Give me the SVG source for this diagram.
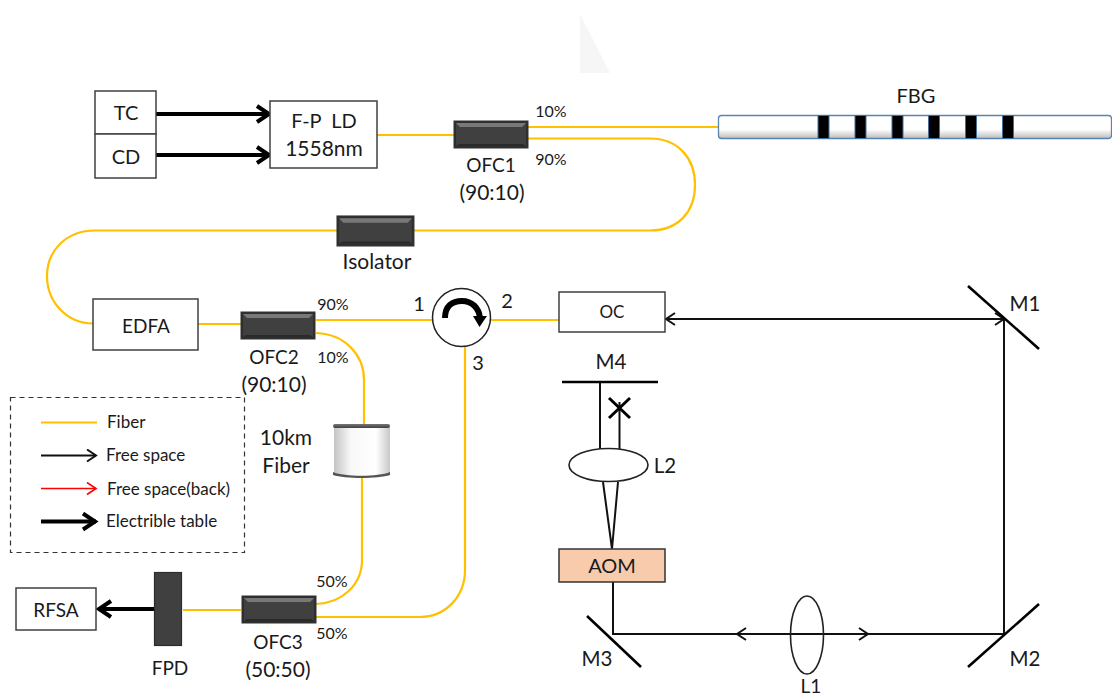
<svg xmlns="http://www.w3.org/2000/svg" width="1112" height="697" viewBox="0 0 1112 697">
<style>
text{font-family:"Lato","Liberation Sans",sans-serif;fill:#1a1a1a;text-anchor:middle}
.t20{font-size:20px}.t21{font-size:21px}.t19{font-size:19px}.t16{font-size:16px}.t17{font-size:17px}
.m{font-size:20.500px}
.l{text-anchor:start}
.box{fill:#fff;stroke:#404040;stroke-width:1.5}
.fib{fill:none;stroke:#ffc000;stroke-width:2.2}
.fs{fill:none;stroke:#111;stroke-width:2}
.el{fill:none;stroke:#000;stroke-width:4}
.mir{fill:none;stroke:#000;stroke-width:2.6}
.lens{fill:#fff;fill-opacity:0;stroke:#222;stroke-width:1.6}
.dark{fill:#404040;stroke:#2c2c2c;stroke-width:1.2}
.bar{fill:#000;stroke:#41719c;stroke-width:1}
</style>
<defs>
<marker id="a" markerUnits="userSpaceOnUse" markerWidth="14" markerHeight="16" refX="11" refY="7" orient="auto-start-reverse"><path d="M2 1L11 7L2 13" fill="none" stroke="#111" stroke-width="2"/></marker>
<marker id="ar" markerUnits="userSpaceOnUse" markerWidth="14" markerHeight="16" refX="11" refY="7" orient="auto"><path d="M2 1L11 7L2 13" fill="none" stroke="#f00" stroke-width="1.6"/></marker>
<marker id="e" markerUnits="userSpaceOnUse" markerWidth="20" markerHeight="22" refX="16" refY="10" orient="auto"><path d="M3 2L15 10L3 18" fill="none" stroke="#000" stroke-width="4"/></marker>
<linearGradient id="tube" x1="0" y1="0" x2="0" y2="1"><stop offset="0" stop-color="#fff"/><stop offset=".6" stop-color="#fff"/><stop offset="1" stop-color="#bdbdbd"/></linearGradient>
<linearGradient id="spool" x1="0" y1="0" x2="1" y2="0"><stop offset="0" stop-color="#c4c4c4"/><stop offset=".3" stop-color="#f8f8f8"/><stop offset=".75" stop-color="#fff"/><stop offset="1" stop-color="#c8c8c8"/></linearGradient>
<linearGradient id="top" x1="0" y1="0" x2="0" y2="1"><stop offset="0" stop-color="#777"/><stop offset="1" stop-color="#404040"/></linearGradient>
<g id="coupler"><rect x="0" y="0" width="74" height="27" fill="#2e2e2e" stroke="#333" stroke-width="1"/><rect x="2" y="2" width="70" height="23" fill="#404040"/><path d="M2 2H72L68 6H6Z" fill="#787878"/><path d="M2 25H72L69 23H5Z" fill="#2a2a2a"/></g>
</defs>
<rect width="1112" height="697" fill="#fff"/>
<path d="M580 14L610 73H580Z" fill="#f6f6f6"/>

<g id="connectors">
<path class="el" marker-end="url(#e)" d="M156 114H270"/>
<path class="el" marker-end="url(#e)" d="M156 155H270"/>
<path class="el" marker-end="url(#e)" d="M154 609H98"/>
<path class="fib" d="M377 135H455"/>
<path class="fib" d="M528 127H718"/>
<path class="fib" d="M528 138.500H650C678 138.500 695 158 695 185C695 212 678 230.500 650 230.500H414"/>
<path class="fib" d="M337 230.500H95C67 230.500 47 250 47 276C47 302 67 323.500 93 323.500"/>
<path class="fib" d="M198 324H241"/>
<path class="fib" d="M316 320H432"/>
<path class="fib" d="M491 320H559"/>
<path class="fib" d="M316 333C345 334 364 355 364 380V424"/>
<path class="fib" d="M362 476V560C362 585 342 603 316 604"/>
<path class="fib" d="M465 346V570C465 597 445 617 420 617H316"/>
<path class="fib" d="M183 610H241"/>
<path class="fs" marker-start="url(#a)" marker-end="url(#a)" d="M666 319H1004"/>
<path class="fs" d="M1004 319V634"/>
<path class="fs" d="M1004 634H613V582"/>
<path class="fs" marker-end="url(#a)" d="M807 634H868"/>
<path class="fs" marker-end="url(#a)" d="M807 634H737"/>
<path class="fs" d="M600 382V449M619.500 402V449"/>
<path class="fs" stroke-width="1.600" d="M603 482L612 549M618 482L612 549"/>
</g>

<g id="tc"><rect class="box" x="95" y="91" width="61" height="43"/><text class="t20" x="126" y="120">TC</text></g>
<g id="cd"><rect class="box" x="95" y="134" width="61" height="44"/><text class="t20" x="126" y="164">CD</text></g>
<g id="fp-ld"><rect class="box" x="270" y="101" width="107" height="67"/><text class="t20" x="324" y="128">F-P&#160; LD</text><text class="t21" x="324" y="156">1558nm</text></g>
<g id="ofc1"><use href="#coupler" x="454" y="121"/><text class="t19" x="491" y="172">OFC1</text><text class="t21" x="492" y="200">(90:10)</text><text class="t16" x="551" y="117">10%</text><text class="t16" x="551" y="165">90%</text></g>
<g id="fbg"><text class="t20" x="916" y="103">FBG</text><rect x="718.500" y="115.500" width="393" height="23" rx="3" fill="url(#tube)" stroke="#5b84ad" stroke-width="1.300"/>
<rect class="bar" x="818" y="115.500" width="11" height="23"/><rect class="bar" x="855" y="115.500" width="11" height="23"/><rect class="bar" x="892" y="115.500" width="11" height="23"/><rect class="bar" x="928.500" y="115.500" width="11" height="23"/><rect class="bar" x="965.500" y="115.500" width="11" height="23"/><rect class="bar" x="1002.500" y="115.500" width="11" height="23"/></g>
<g id="isolator"><use href="#coupler" transform="translate(337 216) scale(1.040 1.110)"/><text class="t21" x="377" y="269">Isolator</text></g>
<g id="edfa"><rect class="box" x="93" y="299" width="105" height="51"/><text class="t19" x="146" y="333">EDFA</text></g>
<g id="ofc2"><use href="#coupler" x="241" y="312"/><text class="t19" x="274" y="364">OFC2</text><text class="t21" x="274" y="392">(90:10)</text><text class="t16" x="333" y="310">90%</text><text class="t16" x="333" y="363">10%</text></g>
<g id="circulator"><circle cx="461.500" cy="317.500" r="29" fill="#fff" stroke="#222" stroke-width="1.500"/><path d="M445 318C445 306 452 301 462 301C472 301 479 308 480 318" fill="none" stroke="#000" stroke-width="6"/><path d="M473 316H487L479.500 327Z" fill="#000"/>
<text class="t20" x="419" y="311">1</text><text class="t20" x="507" y="308">2</text><text class="t20" x="478" y="370">3</text></g>
<g id="oc"><rect class="box" x="559" y="292" width="106" height="40"/><text class="t17" x="612" y="318">OC</text></g>
<g id="m1"><path class="mir" d="M968 286L1039 349"/><text class="m" x="1025" y="311">M1</text></g>
<g id="m2"><path class="mir" d="M968 667L1039 604"/><text class="m" x="1025" y="666">M2</text></g>
<g id="m3"><path class="mir" d="M587 616L641 667"/><text class="m" x="597" y="666">M3</text></g>
<g id="m4"><path class="mir" d="M562 382H658"/><text class="m" x="611" y="369">M4</text></g>
<g id="block"><path fill="none" stroke="#000" stroke-width="3" d="M609 398L630 418M630 398L609 418"/></g>
<g id="l1"><ellipse class="lens" cx="807" cy="635" rx="16.500" ry="39"/><text class="t19" x="811" y="693">L1</text></g>
<g id="l2"><ellipse class="lens" cx="608.500" cy="465" rx="39.500" ry="16.500"/><text class="m" x="665" y="473">L2</text></g>
<g id="aom"><rect x="559" y="549" width="106" height="33" fill="#f8cbad" stroke="#333" stroke-width="1.500"/><text class="t20" x="612" y="573">AOM</text></g>
<g id="spool-10km"><rect x="334" y="425" width="56" height="50" rx="3" fill="url(#spool)"/><rect x="333" y="424" width="57" height="4" rx="2" fill="url(#top)"/><path d="M333 472C345 477 378 477 390 472V475C378 479 345 479 333 475Z" fill="#555"/><text class="t21" x="286" y="445">10km</text><text class="t21" x="286" y="473">Fiber</text></g>
<g id="legend"><rect x="10.500" y="397.500" width="234" height="155" fill="none" stroke="#333" stroke-width="1.200" stroke-dasharray="5 4"/>
<path class="fib" d="M41 422.500H97"/><text class="t17 l" x="107" y="428">Fiber</text>
<path class="fs" stroke-width="1.500" marker-end="url(#a)" d="M41 455.500H96"/><text class="t17 l" x="106" y="461">Free space</text>
<path d="M41 488.500H96" fill="none" stroke="#f00" stroke-width="1.500" marker-end="url(#ar)"/><text class="t17 l" x="107" y="495">Free space(back)</text>
<path class="el" marker-end="url(#e)" d="M41 521.500H96"/><text class="t17 l" x="106" y="527">Electrible table</text></g>
<g id="rfsa"><rect class="box" x="16" y="588" width="80" height="42"/><text class="t19" x="56" y="617">RFSA</text></g>
<g id="fpd"><rect class="dark" x="154.500" y="572.500" width="27" height="73"/><text class="t19" x="170" y="675">FPD</text></g>
<g id="ofc3"><use href="#coupler" x="242" y="596"/><text class="t19" x="278" y="649">OFC3</text><text class="t21" x="278" y="677">(50:50)</text><text class="t16" x="332" y="587">50%</text><text class="t16" x="332" y="639">50%</text></g>
</svg>
